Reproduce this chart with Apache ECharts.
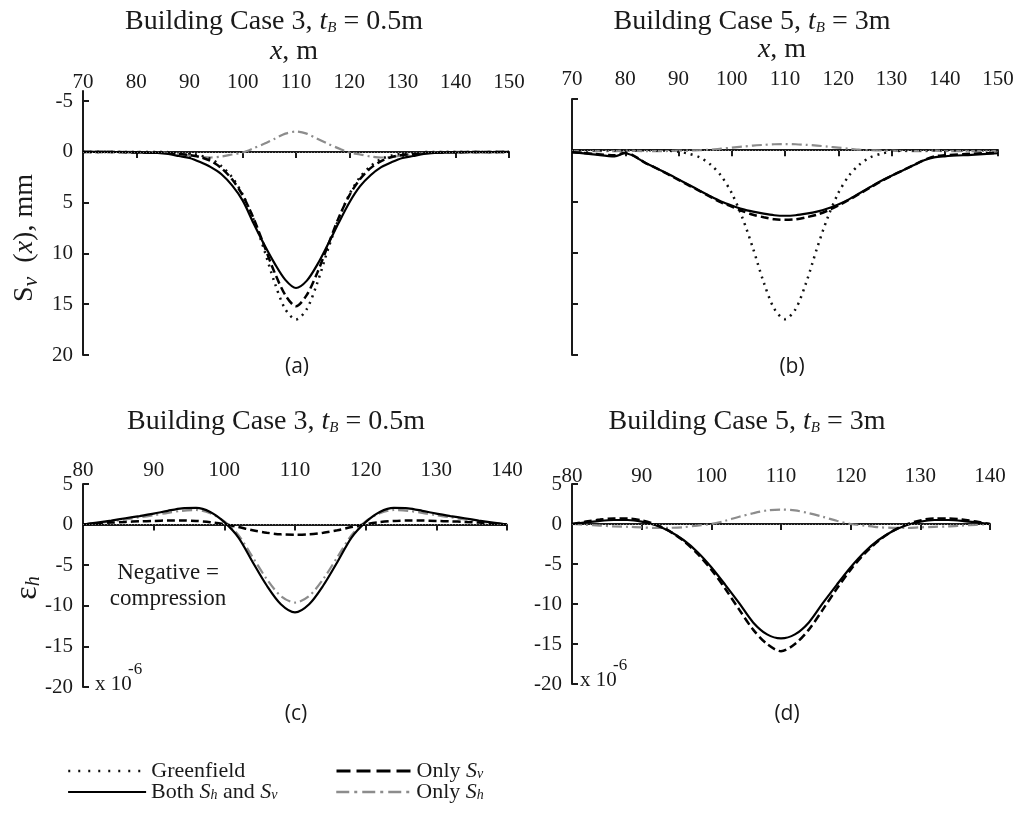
<!DOCTYPE html>
<html>
<head>
<meta charset="utf-8">
<script src="https://cdn.jsdelivr.net/npm/echarts@6/dist/echarts.min.js"></script>
<style>
  html, body { margin: 0; padding: 0; background: #fff; }
  #chart { width: 1020px; height: 814px; }
</style>
</head>
<body>
<div id="chart"></div>
<script>
// x positions (m) for panels (a) and (b)
const xAB = [70, 74, 78, 80, 84, 86, 88, 90, 92, 94, 96, 98, 100, 102, 104, 106, 108, 110,
  112, 114, 116, 118, 120, 122, 124, 126, 128, 130, 132, 134, 136, 138, 140, 145, 150]

// settlement Sv(x), mm (positive = down)
const greenfield = [0, 0, 0, 0, 0, 0.02, 0.05, 0.15, 0.35, 0.7, 1.4, 2.5, 4.2, 6.6, 9.6, 12.9, 15.5, 16.5,
  15.5, 12.9, 9.6, 6.6, 4.2, 2.5, 1.4, 0.7, 0.35, 0.15, 0.05, 0.02, 0, 0, 0, 0, 0]
const aBoth = [0, 0, 0.02, 0.05, 0.1, 0.2, 0.4, 0.6, 1.0, 1.5, 2.2, 3.3, 4.8, 7.0, 9.1, 11.0, 12.6, 13.4,
  12.7, 11.1, 9.1, 7.0, 5.0, 3.4, 2.3, 1.5, 1.0, 0.6, 0.4, 0.2, 0.1, 0.07, 0.05, 0.02, 0]
const aOnlySv = [0, 0, 0.02, 0.05, 0.08, 0.1, 0.2, 0.3, 0.5, 0.9, 1.6, 2.7, 4.3, 6.5, 9.2, 11.9, 14.1, 15.2,
  14.1, 11.9, 9.2, 6.5, 4.3, 2.7, 1.6, 0.9, 0.5, 0.3, 0.2, 0.1, 0.08, 0.05, 0.03, 0, 0]
const aOnlySh = [0, 0, 0, 0, 0.05, 0.1, 0.2, 0.35, 0.5, 0.55, 0.45, 0.25, 0.05, -0.35, -0.8, -1.3, -1.8, -2.0,
  -1.8, -1.3, -0.8, -0.35, 0.05, 0.25, 0.45, 0.55, 0.5, 0.35, 0.2, 0.1, 0.05, 0, 0, 0, 0]
const bBoth = [0.2, 0.4, 0.6, 0.3, 1.3, 1.8, 2.3, 2.85, 3.4, 3.95, 4.5, 5.0, 5.4, 5.75, 6.0, 6.2, 6.35, 6.4,
  6.35, 6.2, 6.0, 5.7, 5.3, 4.8, 4.2, 3.6, 3.0, 2.5, 2.0, 1.5, 1.0, 0.7, 0.6, 0.45, 0.3]
const bOnlySv = [0.2, 0.35, 0.5, 0.25, 1.3, 1.8, 2.35, 2.9, 3.45, 4.0, 4.55, 5.1, 5.5, 5.95, 6.3, 6.55, 6.75, 6.8,
  6.75, 6.55, 6.3, 5.9, 5.4, 4.85, 4.25, 3.65, 3.05, 2.5, 2.0, 1.5, 1.0, 0.6, 0.5, 0.35, 0.25]
const bOnlySh = [0.1, 0.1, 0.1, 0.05, 0.1, 0.1, 0.08, 0.05, 0.03, 0, -0.05, -0.15, -0.25, -0.35, -0.45, -0.52, -0.58, -0.6,
  -0.58, -0.52, -0.45, -0.35, -0.25, -0.15, -0.05, 0, 0.03, 0.05, 0.08, 0.1, 0.1, 0.05, 0.1, 0.1, 0.1]

// x positions (m) for panels (c) and (d)
const xCD = [80, 82, 84, 86, 88, 90, 92, 94, 96, 98, 100, 102, 104, 106, 108, 110,
  112, 114, 116, 118, 120, 122, 124, 126, 128, 130, 132, 134, 136, 138, 140]

// horizontal strain eh, x 10^-6 (negative = compression)
const cBoth = [0, 0.25, 0.5, 0.78, 1.05, 1.35, 1.7, 2.0, 2.05, 1.55, 0.3, -1.6, -4.6, -7.5, -9.8, -10.8,
  -9.8, -7.5, -4.6, -1.6, 0.3, 1.55, 2.05, 2.0, 1.7, 1.35, 1.05, 0.78, 0.5, 0.25, 0]
const cOnlySv = [0, 0.12, 0.25, 0.33, 0.4, 0.45, 0.5, 0.5, 0.45, 0.3, 0.05, -0.3, -0.7, -1.0, -1.2, -1.25,
  -1.2, -1.0, -0.7, -0.3, 0.05, 0.3, 0.45, 0.5, 0.5, 0.45, 0.4, 0.33, 0.25, 0.12, 0]
const cOnlySh = [0, 0.2, 0.4, 0.65, 0.9, 1.15, 1.45, 1.7, 1.8, 1.4, 0.4, -1.3, -4.0, -6.7, -8.8, -9.6,
  -8.8, -6.7, -4.0, -1.3, 0.4, 1.4, 1.8, 1.7, 1.45, 1.15, 0.9, 0.65, 0.4, 0.2, 0]
const dBoth = [0, 0.2, 0.4, 0.5, 0.5, 0.3, -0.15, -0.9, -2.0, -3.5, -5.4, -7.6, -9.9, -12.3, -13.8, -14.3,
  -13.8, -12.3, -9.9, -7.6, -5.4, -3.5, -2.0, -0.9, -0.15, 0.3, 0.5, 0.5, 0.4, 0.2, 0]
const dOnlySv = [0, 0.3, 0.55, 0.7, 0.7, 0.45, -0.05, -0.9, -2.1, -3.7, -5.7, -8.1, -10.7, -13.2, -15.0, -15.9,
  -15.0, -13.2, -10.7, -8.1, -5.7, -3.7, -2.1, -0.9, -0.05, 0.45, 0.7, 0.7, 0.55, 0.3, 0]
const dOnlySh = [0, -0.1, -0.2, -0.3, -0.35, -0.42, -0.5, -0.48, -0.4, -0.2, 0, 0.4, 0.9, 1.35, 1.7, 1.8,
  1.7, 1.35, 0.9, 0.4, 0, -0.2, -0.4, -0.48, -0.5, -0.42, -0.35, -0.3, -0.2, -0.1, 0]

const svTicks = [-5, 0, 5, 10, 15, 20]

const SERIF = 'Liberation Serif'
const SANS = 'Open Sans'
const INK = '#1a1a1a'

// 线型
const lineStyles = {
  'Greenfield': { color: '#111', width: 2.5, type: [2, 5] },
  'Both Sh and Sv': { color: '#000', width: 2.2, type: 'solid' },
  'Only Sv': { color: '#000', width: 2.5, type: [8, 4] },
  'Only Sh': { color: '#8c8c8c', width: 2.2, type: [10, 4, 2, 4] }
}

// 图例里的线型（比曲线上的更稀疏）
const legendLines = {
  'Greenfield': { width: 2.5, type: [2, 8] },
  'Both Sh and Sv': { width: 2.2, type: 'solid' },
  'Only Sv': { width: 3, type: [14, 6] },
  'Only Sh': { width: 2.5, type: [13, 5, 3, 5] }
}

const pts = (xs, ys) => xs.map((x, i) => [x, ys[i]])

const zeroLine = {
  silent: true,
  symbol: 'none',
  label: { show: false },
  lineStyle: { type: [1, 2], color: '#777', width: 1 },
  data: [{ yAxis: 0 }]
}

const makeSeries = (name, idx, xs, ys, withZero) => ({
  name,
  type: 'line',
  xAxisIndex: idx,
  yAxisIndex: idx,
  symbol: 'none',
  smooth: 0.3,
  data: pts(xs, ys),
  lineStyle: lineStyles[name],
  itemStyle: { color: lineStyles[name].color },
  markLine: withZero ? zeroLine : undefined,
  z: name === 'Only Sh' ? 2 : 3
})

const xAxisBase = (idx, min, max, margin) => ({
  gridIndex: idx,
  type: 'value',
  position: 'top',
  min, max, interval: 10,
  axisLine: { lineStyle: { color: INK, width: 2 } },
  axisTick: { inside: true, length: 6, lineStyle: { color: INK, width: 2 } },
  axisLabel: { fontFamily: SERIF, fontSize: 21, color: INK, margin },
  splitLine: { show: false }
})

const yAxisLine = { lineStyle: { color: INK, width: 2 } }
const yTick = { inside: true, length: 6, lineStyle: { color: INK, width: 2 } }

const rich = {
  i: { fontFamily: SERIF, fontStyle: 'italic', fontSize: 22, color: INK },
  s: { fontFamily: SERIF, fontStyle: 'italic', fontSize: 14, color: INK, verticalAlign: 'bottom', padding: [8, 0, 0, 0] }
}

const legendNames = {
  'Greenfield': 'Greenfield',
  'Both Sh and Sv': 'Both {i|S}{s|h} and {i|S}{s|v}',
  'Only Sv': 'Only {i|S}{s|v}',
  'Only Sh': 'Only {i|S}{s|h}'
}

const legendItem = (name, left, top, itemWidth) => ({
  data: [name],
  left, top,
  padding: 0,
  itemWidth,
  itemHeight: 14,
  selectedMode: false,
  itemStyle: { opacity: 0 },
  lineStyle: legendLines[name],
  formatter: (n) => legendNames[n],
  textStyle: { fontFamily: SERIF, fontSize: 22, color: INK, lineHeight: 21, rich }
})

const titleRich = {
  n: { fontFamily: SERIF, fontSize: 28, fill: INK },
  i: { fontFamily: SERIF, fontSize: 28, fontStyle: 'italic', fill: INK },
  s: { fontFamily: SERIF, fontSize: 15, fontStyle: 'italic', fill: INK, verticalAlign: 'bottom', padding: [10, 0, 0, 0] },
  sv: { fontFamily: SERIF, fontSize: 22, fontStyle: 'italic', fill: INK, verticalAlign: 'bottom', padding: [12, 0, 0, 0] },
  e: { fontFamily: SERIF, fontSize: 32, fill: INK },
  h: { fontFamily: SERIF, fontSize: 20, fontStyle: 'italic', fill: INK, verticalAlign: 'bottom', padding: [12, 0, 0, 0] }
}

const text = (x, y, str, extra) => ({
  type: 'text', x, y, silent: true,
  style: Object.assign({ text: str, fill: INK, align: 'center', verticalAlign: 'middle', rich: titleRich }, extra)
})

const panelTitle = (x, y, caseNo, tb) =>
  text(x, y, `{n|Building Case ${caseNo}, }{i|t}{s|B}{n| = ${tb}}`, { font: `28px "${SERIF}"` })
const xName = (x, y) => text(x, y, '{i|x}{n|, m}', { font: `28px "${SERIF}"` })
const letter = (x, y, s) => text(x, y, s, { font: `21px "${SANS}"` })
const scaleNote = (x, y) => [
  text(x, y, 'x 10', { font: `21px "${SERIF}"`, align: 'left' }),
  text(x + 33, y - 14, '-6', { font: `17px "${SERIF}"`, align: 'left' })
]

const chart = echarts.init(document.getElementById('chart'))

chart.setOption({
  animation: false,
  backgroundColor: '#fff',
  grid: [
    { left: 83, top: 91, width: 426, height: 264 },
    { left: 572, top: 99, width: 426, height: 256 },
    { left: 83, top: 484, width: 424, height: 203 },
    { left: 572, top: 484, width: 418, height: 200 }
  ],
  xAxis: [
    xAxisBase(0, 70, 150, -2),
    xAxisBase(1, 70, 150, 9),
    xAxisBase(2, 80, 140, 3),
    xAxisBase(3, 80, 140, -3)
  ],
  yAxis: [
    {
      gridIndex: 0, type: 'value', inverse: true, min: -6, max: 20,
      axisLine: yAxisLine,
      axisTick: Object.assign({ customValues: svTicks }, yTick),
      axisLabel: { customValues: svTicks, fontFamily: SERIF, fontSize: 21, color: INK, margin: 10 },
      splitLine: { show: false }
    },
    {
      gridIndex: 1, type: 'value', inverse: true, min: -5, max: 20, interval: 5,
      axisLine: yAxisLine, axisTick: yTick,
      axisLabel: { show: false },
      splitLine: { show: false }
    },
    {
      gridIndex: 2, type: 'value', min: -20, max: 5, interval: 5,
      axisLine: yAxisLine, axisTick: yTick,
      axisLabel: { fontFamily: SERIF, fontSize: 21, color: INK, margin: 10 },
      splitLine: { show: false }
    },
    {
      gridIndex: 3, type: 'value', min: -20, max: 5, interval: 5,
      axisLine: yAxisLine, axisTick: yTick,
      axisLabel: { fontFamily: SERIF, fontSize: 21, color: INK, margin: 10 },
      splitLine: { show: false }
    }
  ],
  legend: [
    legendItem('Greenfield', 67, 760, 78),
    legendItem('Both Sh and Sv', 67, 781, 78),
    legendItem('Only Sv', 335, 760, 75),
    legendItem('Only Sh', 335, 781, 75)
  ],
  series: [
    makeSeries('Only Sh', 0, xAB, aOnlySh, true),
    makeSeries('Greenfield', 0, xAB, greenfield),
    makeSeries('Only Sv', 0, xAB, aOnlySv),
    makeSeries('Both Sh and Sv', 0, xAB, aBoth),

    makeSeries('Only Sh', 1, xAB, bOnlySh, true),
    makeSeries('Greenfield', 1, xAB, greenfield),
    makeSeries('Only Sv', 1, xAB, bOnlySv),
    makeSeries('Both Sh and Sv', 1, xAB, bBoth),

    makeSeries('Only Sh', 2, xCD, cOnlySh, true),
    makeSeries('Only Sv', 2, xCD, cOnlySv),
    makeSeries('Both Sh and Sv', 2, xCD, cBoth),

    makeSeries('Only Sh', 3, xCD, dOnlySh, true),
    makeSeries('Only Sv', 3, xCD, dOnlySv),
    makeSeries('Both Sh and Sv', 3, xCD, dBoth)
  ],
  graphic: [
    panelTitle(274, 22, 3, '0.5m'),
    panelTitle(752, 22, 5, '3m'),
    panelTitle(276, 422, 3, '0.5m'),
    panelTitle(747, 422, 5, '3m'),
    xName(294, 52),
    xName(782, 50),
    letter(297, 367, '(a)'),
    letter(792, 367, '(b)'),
    letter(296, 714, '(c)'),
    letter(787, 714, '(d)'),
    Object.assign(text(25, 238, '{n|S}{sv|v}{n|  (}{i|x}{n|), mm}', { font: `28px "${SERIF}"` }), { rotation: Math.PI / 2 }),
    Object.assign(text(28, 588, '{e|ε}{h|h}', { font: `30px "${SERIF}"` }), { rotation: Math.PI / 2 }),
    text(168, 573, 'Negative =', { font: `23px "${SERIF}"` }),
    text(168, 599, 'compression', { font: `23px "${SERIF}"` }),
    ...scaleNote(95, 684),
    ...scaleNote(580, 680)
  ]
})
</script>
</body>
</html>
